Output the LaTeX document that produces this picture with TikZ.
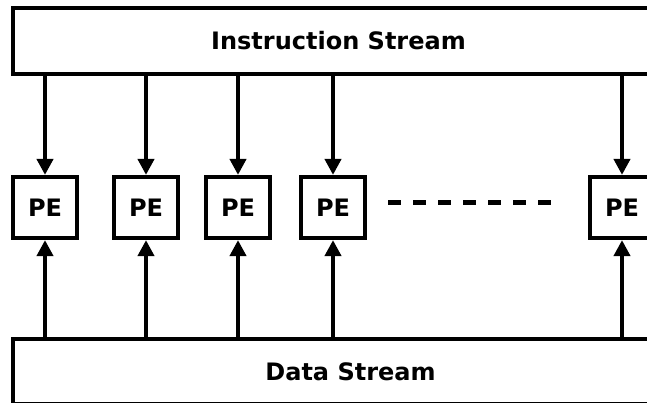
\documentclass[tikz,border=0pt]{standalone}
\usepackage{fontspec}
\setmainfont{DejaVu Sans}
\usetikzlibrary{arrows.meta}

\tikzset{
  boxfont/.style={font=\fontsize{12pt}{14pt}\selectfont\bfseries},
  streambox/.style={draw, line width=2.1pt, fill=white, boxfont, inner sep=0pt},
  pebox/.style={draw, line width=2.1pt, minimum width=32pt, minimum height=30.5pt, boxfont, inner sep=0pt},
  feed/.style={line width=2.1pt, -{Triangle[width=8pt, length=8pt]}}
}

\begin{document}
\begin{tikzpicture}[x=0.5pt, y=-0.5pt]
\useasboundingbox (0,0) rectangle (647,402);
\clip (0,0) rectangle (647,402);

% Streams
\node[streambox, minimum width=325.5pt, minimum height=33pt] (instr) at (338.5,41) {Instruction Stream};
\node[streambox, minimum width=337.5pt, minimum height=32.5pt] (data) at (350.5,371.5) {Data Stream};

% Processing elements
\foreach \i/\x in {1/45, 2/146, 3/238, 4/333, 5/622}
  \node[pebox] (pe\i) at (\x,207.5) {PE};

% Arrows
\foreach \i in {1,...,5} {
  \draw[feed] (pe\i.north |- instr.south) -- (pe\i.north);
  \draw[feed] (pe\i.south |- data.north) -- (pe\i.south);
}

% Dots between elements
\draw[line width=2.1pt, dash pattern=on 6.5pt off 6pt] (388,202.5) -- (552,202.5);
\end{tikzpicture}
\end{document}
